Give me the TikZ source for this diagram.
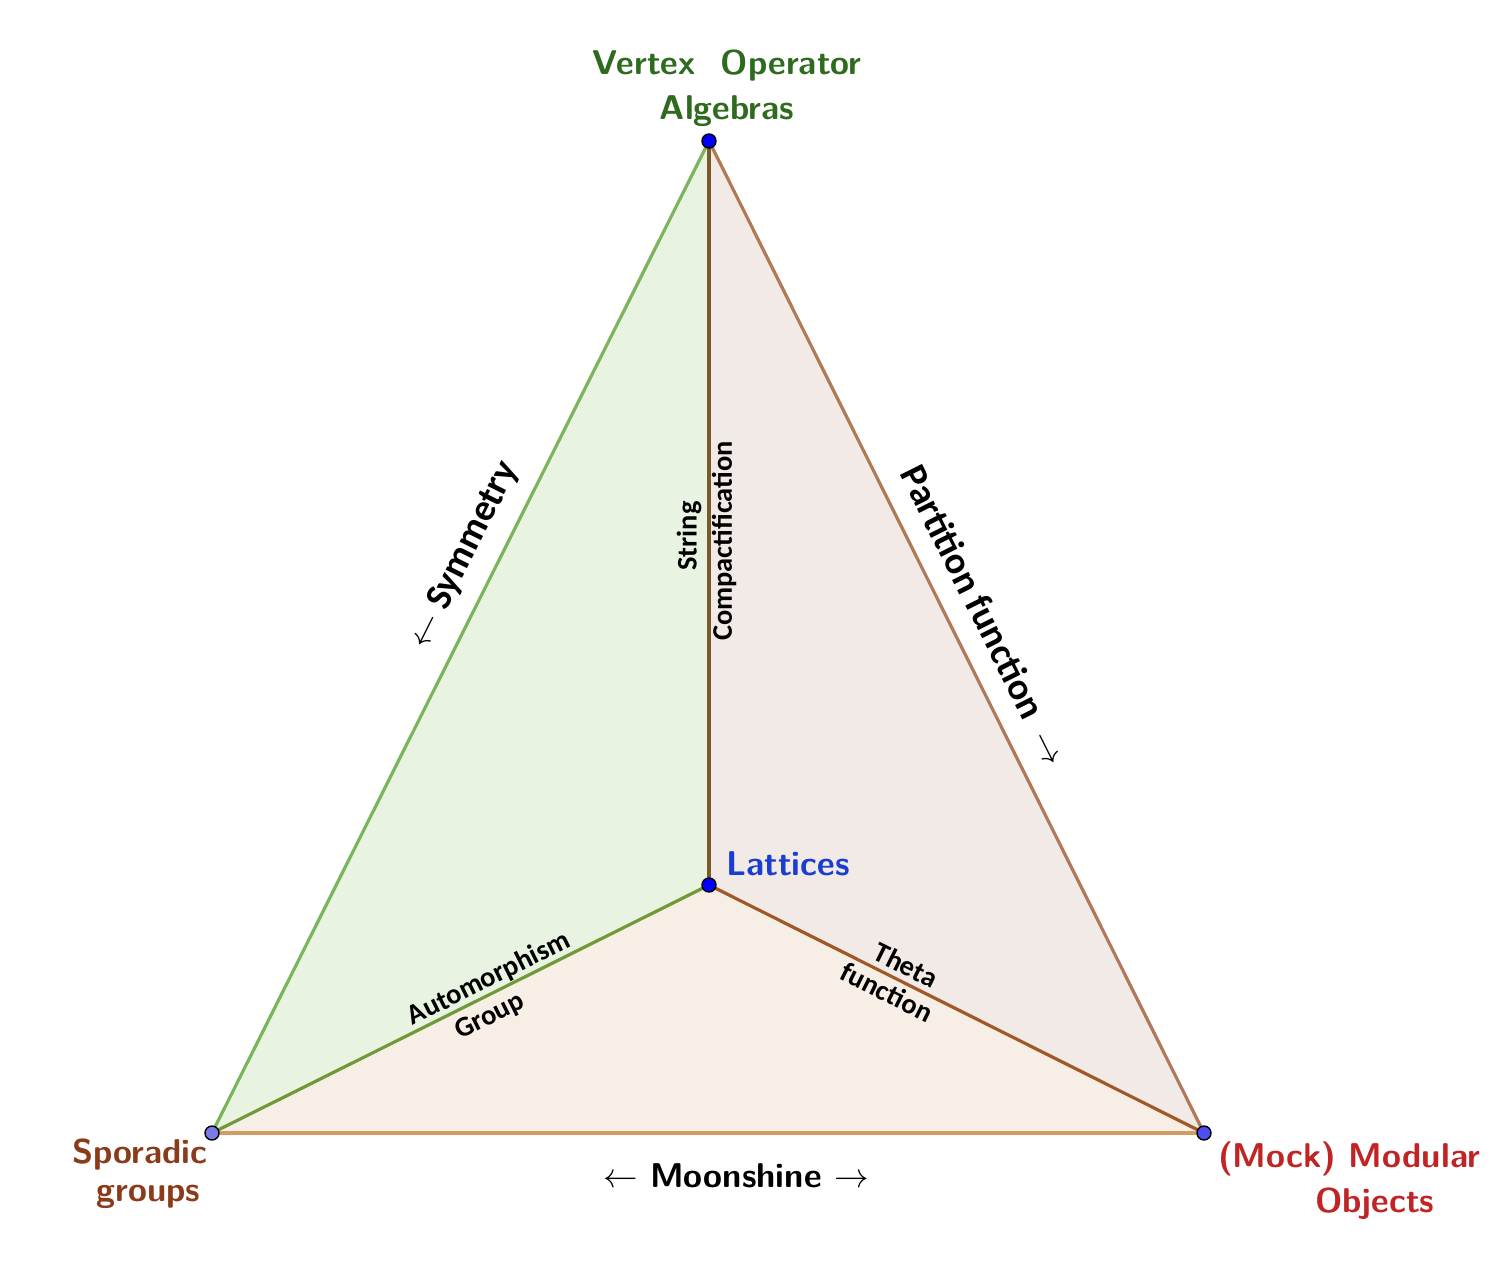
\documentclass[tikz,border=0pt]{standalone}
\usepackage{fontspec}
\newfontfamily\lblfont{Carlito}
\definecolor{fillG}{HTML}{E8F3E2}
\definecolor{fillR}{HTML}{F2EAE6}
\definecolor{fillB}{HTML}{F7EFE6}
\definecolor{edgeL}{HTML}{7AB55C}
\definecolor{edgeV}{HTML}{7A5A2A}
\definecolor{edgeR}{HTML}{B07A58}
\definecolor{edgeCL}{HTML}{6F9A3A}
\definecolor{edgeCR}{HTML}{A0582A}
\definecolor{edgeB}{HTML}{D39A62}
\definecolor{voaC}{HTML}{2E6B1E}
\definecolor{latC}{HTML}{1A3FD0}
\definecolor{spoC}{HTML}{8B3A1A}
\definecolor{mockC}{HTML}{C02424}
\definecolor{ptA}{HTML}{0000FF}
\definecolor{ptL}{HTML}{7B7BE8}
\definecolor{ptR}{HTML}{4D4DF0}
\begin{document}
\begin{tikzpicture}[x=0.5pt,y=-0.5pt,
  edge/.style={line width=1.6pt},
  vert/.style={circle,draw=black,line width=0.7pt,inner sep=0pt,minimum size=7pt},
  toplabel/.style={font=\sffamily\bfseries\fontsize{17.2}{22.5}\selectfont,align=center},
  sidelabel/.style={font=\lblfont\bfseries\fontsize{19}{22}\selectfont,inner sep=0pt},
  innerlabel/.style={font=\lblfont\bfseries\fontsize{14.2}{17}\selectfont,inner sep=0pt}]
\useasboundingbox (0,0) rectangle (1510,1260);
\coordinate (T) at (709,141);
\coordinate (L) at (212,1133);
\coordinate (R) at (1204,1133);
\coordinate (C) at (709,885);
% fills
\fill[fillG] (T) -- (L) -- (C) -- cycle;
\fill[fillR] (T) -- (C) -- (R) -- cycle;
\fill[fillB] (L) -- (C) -- (R) -- cycle;
% edges
\draw[edge,edgeB] (L) -- (R);
\draw[edge,edgeL] (L) -- (T);
\draw[edge,edgeR] (T) -- (R);
\draw[edge,edgeV] (T) -- (C);
\draw[edge,edgeCL] (C) -- (L);
\draw[edge,edgeCR] (C) -- (R);
% vertices
\node[vert,fill=ptA] (vT) at (T) {};
\node[vert,fill=ptA] (vC) at (C) {};
\node[vert,fill=ptL] (vL) at (L) {};
\node[vert,fill=ptR] (vR) at (R) {};
% vertex labels
\node[toplabel,text=voaC] (voa) at (727,88) {Vertex\ \ Operator\\Algebras};
\node[toplabel,text=latC,anchor=west] (lat) at (719,864) {Lattices};
\node[toplabel,text=spoC,font=\sffamily\bfseries\fontsize{17.2}{19}\selectfont] (spo) at (140,1174) {Sporadic\\\hspace*{0.5em}groups};
\node[toplabel,text=mockC] (mock) at (1349,1181) {(Mock) Modular\\\hspace*{1.5em}Objects};
\node[toplabel,text=black] (moon) at (736,1176) {$\leftarrow$ Moonshine $\rightarrow$};
% side labels
\node[sidelabel,rotate=63.4] (sym) at (464,555) {$\leftarrow$ Symmetry};
\node[sidelabel,rotate=-63.4] (part) at (985,615) {Partition function \ $\rightarrow$};
% inner labels
\node[innerlabel,rotate=90] (str) at (689,536) {String};
\node[innerlabel,rotate=90] (comp) at (724,541) {Compactification};
\node[innerlabel,rotate=26.5] (auto) at (489,979) {Automorphism};
\node[innerlabel,rotate=26.5] (grp) at (490,1017) {Group};
\node[innerlabel,rotate=-26.5] (theta) at (906,965) {Theta};
\node[innerlabel,rotate=-26.5] (func) at (887,992) {function};
\end{tikzpicture}
\end{document}
